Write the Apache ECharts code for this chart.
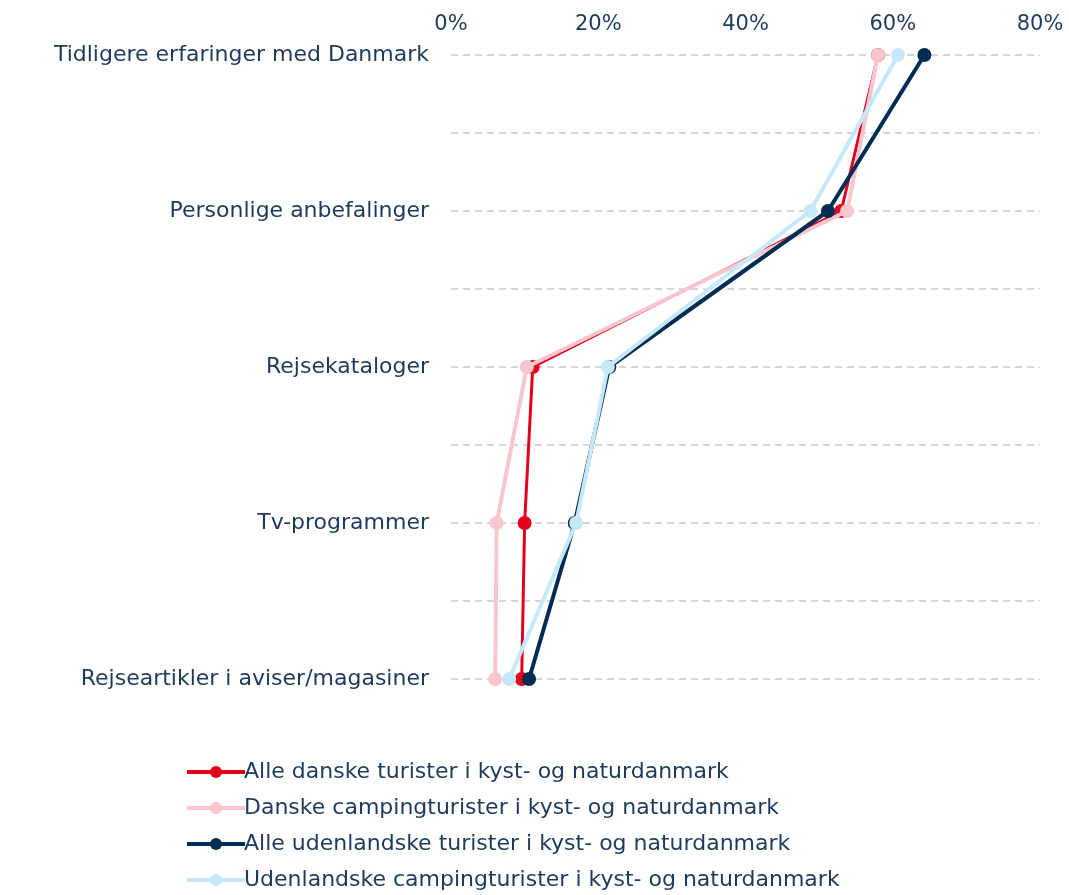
<!DOCTYPE html>
<html>
<head>
<meta charset="utf-8">
<script src="https://cdn.jsdelivr.net/npm/echarts@6/dist/echarts.min.js"></script>
<style>
  html, body { margin: 0; padding: 0; background: #fff; }
  #chart { width: 1069px; height: 895px; }
</style>
</head>
<body>
<div id="chart"></div>
<script>
var categories = ['Tidligere erfaringer med Danmark', 'Personlige anbefalinger', 'Rejsekataloger', 'Tv-programmer', 'Rejseartikler i aviser/magasiner'];
var seriesNames = [
    'Alle danske turister i kyst- og naturdanmark',
    'Danske campingturister i kyst- og naturdanmark',
    'Alle udenlandske turister i kyst- og naturdanmark',
    'Udenlandske campingturister i kyst- og naturdanmark'
];
var alleDanske = [58.0, 53.0, 11.1, 10.0, 9.6];
var danskeCamping = [58.0, 53.8, 10.3, 6.2, 6.0];
var alleUdenlandske = [64.3, 51.2, 21.5, 16.8, 10.6];
var udenlandskeCamping = [60.7, 48.8, 21.3, 17.0, 7.9];
var colors = ['#e3001b', '#f8c6cf', '#002b52', '#c6e8fb'];
var lineWidths = [3, 4, 4, 4];

var textColor = '#1d3a5a';
var allValues = [alleDanske, danskeCamping, alleUdenlandske, udenlandskeCamping];

var chart = echarts.init(document.getElementById('chart'));

var option = {
    animation: false,
    textStyle: { fontFamily: 'DejaVu Sans' },
    grid: { left: 451, right: 29, top: 55, bottom: 216, containLabel: false },
    legend: {
        orient: 'vertical',
        left: 180,
        top: 756,
        height: 220,
        padding: [5, 5, 0, 5],
        itemGap: 14,
        itemWidth: 58,
        itemHeight: 15,
        lineStyle: { width: 4 },
        textStyle: { color: textColor, fontSize: 22, padding: [0, 0, 0, -6] },
        data: seriesNames
    },
    xAxis: {
        type: 'value',
        position: 'top',
        min: 0,
        max: 80,
        interval: 20,
        axisLine: { show: false },
        axisTick: { show: false },
        splitLine: { show: false },
        axisLabel: { formatter: '{value}%', color: textColor, fontSize: 21, margin: 20 }
    },
    yAxis: {
        type: 'value',
        inverse: true,
        min: 0,
        max: 4,
        interval: 0.5,
        axisLine: { show: false },
        axisTick: { show: false },
        splitLine: { show: true, lineStyle: { color: '#c8c8c8', type: [7, 5], width: 1.5 } },
        axisLabel: {
            color: textColor,
            fontSize: 22,
            margin: 22,
            formatter: function (v) {
                return Number.isInteger(v) ? categories[v] : '';
            }
        }
    },
    series: seriesNames.map(function (name, s) {
        return {
            name: name,
            type: 'line',
            data: allValues[s].map(function (v, i) { return [v, i]; }),
            color: colors[s],
            symbol: 'circle',
            symbolSize: 14,
            lineStyle: { width: lineWidths[s] },
            z: 2 + s
        };
    })
};

chart.setOption(option);
</script>
</body>
</html>
